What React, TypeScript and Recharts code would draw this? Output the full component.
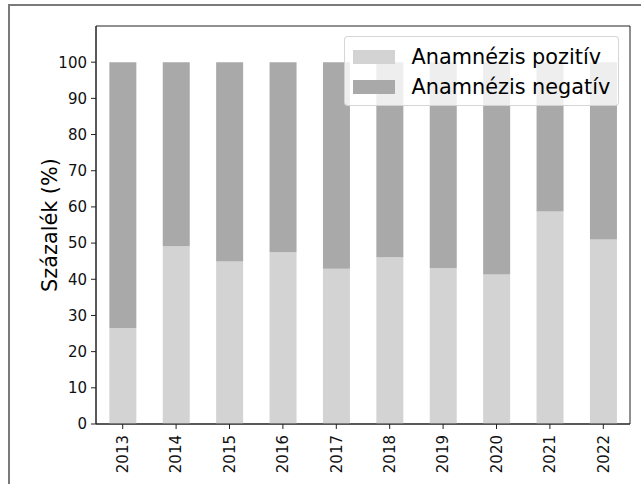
import React from 'react';
import { BarChart, Bar, XAxis, YAxis, Legend, Label, ReferenceArea } from 'recharts';

const years = ['2013', '2014', '2015', '2016', '2017', '2018', '2019', '2020', '2021', '2022'];
const positive = [26.5, 49.1, 44.9, 47.5, 42.9, 46.1, 43.1, 41.3, 58.7, 51.0];
const negative = [73.5, 50.9, 55.1, 52.5, 57.1, 53.9, 56.9, 58.7, 41.3, 49.0];
const yTicks = [0, 10, 20, 30, 40, 50, 60, 70, 80, 90, 100];
const seriesNames = ['Anamnézis pozitív', 'Anamnézis negatív'];
const yLabel = 'Százalék (%)';

const data = years.map((y, i) => ({ year: y, pos: positive[i], neg: negative[i] }));

const FONT = '"DejaVu Sans", sans-serif';
const POS_COLOR = '#d3d3d3';
const NEG_COLOR = '#a9a9a9';
const FRAME = '#222';
const TICK_FONT = 15;

const XTick = (props: any) => {
  const { x, y, payload } = props;
  return (
    <text
      x={x}
      y={y}
      transform={`rotate(-90, ${x}, ${y})`}
      textAnchor="end"
      dy="0.35em"
      fontSize={TICK_FONT}
      fill="#111"
      fontFamily={FONT}
    >
      {payload.value}
    </text>
  );
};

const YLabel = (props: any) => {
  const vb = props.viewBox || { x: 0, y: 26, width: 96, height: 398 };
  const cx = vb.x + 57;
  const cy = vb.y + vb.height / 2;
  return (
    <text
      x={cx}
      y={cy}
      transform={`rotate(-90, ${cx}, ${cy})`}
      textAnchor="middle"
      fontSize={20.8}
      fill="#000"
      fontFamily={FONT}
    >
      {yLabel}
    </text>
  );
};

const LegendBox = (props: any) => {
  const payload = [...(props.payload || [])].sort(
    (a: any, b: any) => seriesNames.indexOf(a.value) - seriesNames.indexOf(b.value)
  );
  return (
    <div
      style={{
        background: 'rgba(255,255,255,0.8)',
        border: '1px solid rgba(204,204,204,0.8)',
        borderRadius: 4,
        padding: '5px 0 3px 8px',
        boxSizing: 'border-box',
        width: 275,
        fontFamily: FONT,
      }}
    >
      {payload.map((entry: any, i: number) => (
        <div key={i} style={{ display: 'flex', alignItems: 'center', height: 30 }}>
          <div style={{ width: 41.6, height: 14.5, background: entry.color }} />
          <span style={{ marginLeft: 17, fontSize: 20.8, color: '#000', lineHeight: '30px' }}>
            {entry.value}
          </span>
        </div>
      ))}
    </div>
  );
};

export default function App() {
  return (
    <div style={{ position: 'absolute', left: 0, top: 0, width: 641, height: 484, background: '#fff' }}>
      <div
        style={{
          position: 'absolute',
          left: 8,
          top: 4,
          width: 633,
          height: 480,
          borderLeft: '2px solid #7a7a7a',
          borderTop: '2px solid #7a7a7a',
          boxSizing: 'border-box',
        }}
      />
      <div style={{ position: 'absolute', left: 0, top: 0 }}>
        <BarChart
          width={641}
          height={484}
          data={data}
          margin={{ top: 26, right: 11, left: 0, bottom: 0 }}
          barCategoryGap="25%"
          style={{ fontFamily: FONT }}
        >
          <XAxis
            xAxisId="bottom"
            dataKey="year"
            height={60}
            tick={<XTick />}
            tickSize={5}
            tickMargin={6}
            tickLine={{ stroke: FRAME }}
            axisLine={{ stroke: FRAME }}
            interval={0}
          />
          <YAxis
            yAxisId="left"
            width={96}
            domain={[0, 110]}
            ticks={yTicks}
            interval={0}
            tickSize={5}
            tickMargin={4}
            tick={{ fontSize: TICK_FONT, fill: '#111', fontFamily: FONT }}
            tickLine={{ stroke: FRAME }}
            axisLine={{ stroke: FRAME }}
          >
            <Label content={<YLabel />} />
          </YAxis>
          <Legend
            layout="vertical"
            align="center"
            verticalAlign="middle"
            content={<LegendBox />}
            wrapperStyle={{ position: 'absolute', left: 344, top: 36, width: 275, height: 'auto' }}
          />
          <Bar
            xAxisId="bottom"
            yAxisId="left"
            dataKey="pos"
            name={seriesNames[0]}
            stackId="a"
            fill={POS_COLOR}
            isAnimationActive={false}
          />
          <Bar
            xAxisId="bottom"
            yAxisId="left"
            dataKey="neg"
            name={seriesNames[1]}
            stackId="a"
            fill={NEG_COLOR}
            isAnimationActive={false}
          />
          <ReferenceArea
            xAxisId="bottom"
            yAxisId="left"
            x1={years[0]}
            x2={years[years.length - 1]}
            y1={0}
            y2={110}
            fill="none"
            fillOpacity={0}
            stroke={FRAME}
            strokeWidth={1}
            ifOverflow="visible"
          />
        </BarChart>
      </div>
    </div>
  );
}
